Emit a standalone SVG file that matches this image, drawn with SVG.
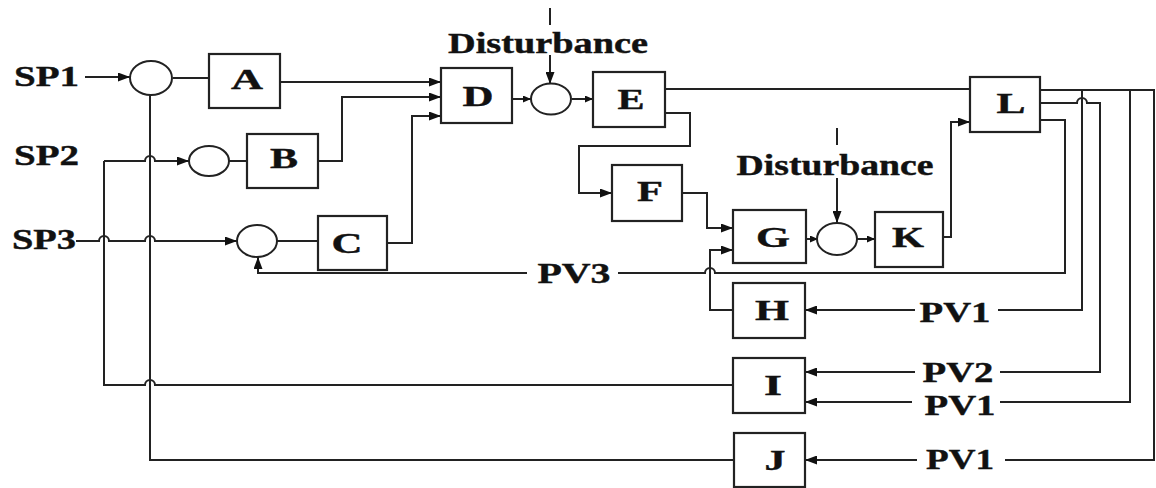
<svg xmlns="http://www.w3.org/2000/svg" width="1156" height="488" viewBox="0 0 1156 488">
<defs>
<marker id="ah" markerUnits="userSpaceOnUse" markerWidth="12" markerHeight="9" refX="12" refY="4.5" orient="auto"><path d="M0,0 L12,4.5 L0,9 z" fill="#111"/></marker>
<marker id="ahs" markerUnits="userSpaceOnUse" markerWidth="8" markerHeight="7" refX="8" refY="3.5" orient="auto"><path d="M0,0 L8,3.5 L0,7 z" fill="#111"/></marker>
</defs>
<style>
.b{fill:#fff;stroke:#222;stroke-width:2.2}
.s{fill:#fff;stroke:#222;stroke-width:2}
.c{fill:none;stroke:#222;stroke-width:2}
.a{marker-end:url(#ah)}
.as{marker-end:url(#ahs)}
text{font-family:"Liberation Serif","Times New Roman",serif;font-weight:bold;font-size:28.5px;fill:#111;stroke:#111;stroke-width:0.4}
.m{text-anchor:middle}
</style>
<rect width="1156" height="488" fill="#fff"/>
<g id="connectors">
<path class="c a" d="M85,77 L130,77"/>
<path class="c" d="M173,78 L209,78"/>
<path class="c a" d="M280,82 L441,82"/>
<path class="c" d="M104,161 L104,385 L145,385 A5,5 0 0 1 155,385 L733,385"/>
<path class="c a" d="M104,161 L145,161 A5,5 0 0 1 155,161 L189,161"/>
<path class="c" d="M229,161 L247,161"/>
<path class="c a" d="M318,161 L342,161 L342,97 L441,97"/>
<path class="c a" d="M76,241 L99,241 A5,5 0 0 1 109,241 L145,241 A5,5 0 0 1 155,241 L237,241"/>
<path class="c" d="M277,241 L318,241"/>
<path class="c a" d="M387,243 L412,243 L412,116 L441,116"/>
<path class="c" d="M150,95 L150,460 L734,460"/>
<path class="c as" d="M512,99 L531,99"/>
<path class="c as" d="M572,99 L593,99"/>
<path class="c" d="M550,8 L550,25"/>
<path class="c a" d="M550,55 L550,84"/>
<path class="c" d="M665,89 L970,89"/>
<path class="c" d="M1040,90 L1154,90 L1154,460 L1005,460"/>
<path class="c a" d="M917,460 L805,460"/>
<path class="c a" d="M665,113 L690,113 L690,146 L579,146 L579,193 L612,193"/>
<path class="c a" d="M682,193 L707,193 L707,228 L733,228"/>
<path class="c a" d="M733,310 L710,310 L710,250 L733,250"/>
<path class="c as" d="M805,239 L818,239"/>
<path class="c as" d="M857,239 L875,239"/>
<path class="c" d="M837,128 L837,145"/>
<path class="c a" d="M837,178 L837,223"/>
<path class="c a" d="M943,237 L951,237 L951,122 L970,122"/>
<path class="c" d="M1040,120 L1065,120 L1065,273 L715,273 A5,5 0 0 0 705,273 L618,273"/>
<path class="c a" d="M527,273 L258,273 L258,257"/>
<path class="c" d="M1040,103 L1077,103 A5,5 0 0 1 1087,103 L1100,103 L1100,372 L1000,372"/>
<path class="c a" d="M915,372 L805,372"/>
<path class="c" d="M1082,90 L1082,310 L998,310"/>
<path class="c a" d="M915,310 L805,310"/>
<path class="c" d="M1130,90 L1130,402 L1000,402"/>
<path class="c a" d="M912,402 L805,402"/>
</g>
<g id="sum1"><ellipse class="s" cx="151" cy="78" rx="21" ry="17"/></g>
<g id="sum2"><ellipse class="s" cx="209" cy="161" rx="20" ry="15"/></g>
<g id="sum3"><ellipse class="s" cx="257" cy="241" rx="20" ry="16"/></g>
<g id="sum4"><ellipse class="s" cx="551" cy="99" rx="20" ry="15.5"/></g>
<g id="sum5"><ellipse class="s" cx="837" cy="239" rx="20" ry="16"/></g>
<g id="A"><rect class="b" x="209" y="54" width="71" height="54"/><text class="m" x="247" y="89" textLength="32" lengthAdjust="spacingAndGlyphs">A</text></g>
<g id="B"><rect class="b" x="247" y="134" width="71" height="54"/><text class="m" x="284" y="168" textLength="28" lengthAdjust="spacingAndGlyphs">B</text></g>
<g id="C"><rect class="b" x="318" y="216" width="69" height="54"/><text class="m" x="347" y="253" textLength="31" lengthAdjust="spacingAndGlyphs">C</text></g>
<g id="D"><rect class="b" x="441" y="68" width="71" height="55"/><text class="m" x="478" y="106" textLength="31" lengthAdjust="spacingAndGlyphs">D</text></g>
<g id="E"><rect class="b" x="593" y="72" width="72" height="55"/><text class="m" x="631" y="109" textLength="27" lengthAdjust="spacingAndGlyphs">E</text></g>
<g id="F"><rect class="b" x="612" y="165" width="70" height="56"/><text class="m" x="650" y="201" textLength="26" lengthAdjust="spacingAndGlyphs">F</text></g>
<g id="G"><rect class="b" x="733" y="210" width="73" height="53"/><text class="m" x="773" y="247" textLength="34" lengthAdjust="spacingAndGlyphs">G</text></g>
<g id="K"><rect class="b" x="875" y="212" width="68" height="55"/><text class="m" x="908" y="247" textLength="32" lengthAdjust="spacingAndGlyphs">K</text></g>
<g id="L"><rect class="b" x="970" y="77" width="70" height="55"/><text class="m" x="1011" y="113" textLength="29" lengthAdjust="spacingAndGlyphs">L</text></g>
<g id="H"><rect class="b" x="733" y="283" width="72" height="55"/><text class="m" x="772" y="320" textLength="34" lengthAdjust="spacingAndGlyphs">H</text></g>
<g id="I"><rect class="b" x="733" y="358" width="72" height="55"/><text class="m" x="773" y="395" textLength="18" lengthAdjust="spacingAndGlyphs">I</text></g>
<g id="J"><rect class="b" x="734" y="433" width="71" height="54"/><text class="m" x="775" y="470" textLength="21" lengthAdjust="spacingAndGlyphs">J</text></g>
<g id="labels">
<text x="14" y="86" textLength="65" lengthAdjust="spacingAndGlyphs">SP1</text>
<text x="14" y="165" textLength="65" lengthAdjust="spacingAndGlyphs">SP2</text>
<text x="12" y="249" textLength="64" lengthAdjust="spacingAndGlyphs">SP3</text>
<text class="m" x="548" y="53" textLength="200" lengthAdjust="spacingAndGlyphs">Disturbance</text>
<text class="m" x="835" y="175" textLength="197" lengthAdjust="spacingAndGlyphs">Disturbance</text>
<text class="m" x="574" y="283" textLength="73" lengthAdjust="spacingAndGlyphs">PV3</text>
<text class="m" x="955" y="322" textLength="71" lengthAdjust="spacingAndGlyphs">PV1</text>
<text class="m" x="958" y="382" textLength="71" lengthAdjust="spacingAndGlyphs">PV2</text>
<text class="m" x="960" y="415" textLength="71" lengthAdjust="spacingAndGlyphs">PV1</text>
<text class="m" x="960" y="469" textLength="68" lengthAdjust="spacingAndGlyphs">PV1</text>
</g>
</svg>
